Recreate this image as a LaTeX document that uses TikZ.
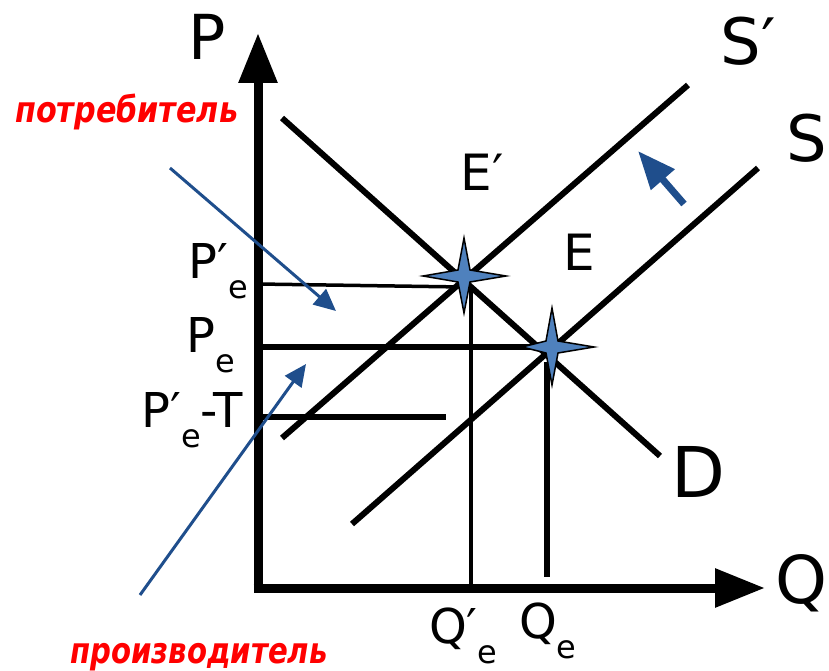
\documentclass[tikz,border=0pt]{standalone}
\usepackage{fontspec}
\setmainfont{DejaVu Sans}
\usetikzlibrary{arrows.meta,calc}
\definecolor{arrowblue}{RGB}{31,78,140}
\definecolor{starblue}{RGB}{79,129,189}
\definecolor{labelred}{RGB}{255,0,0}
\newcommand\lbsub[1]{\raisebox{-20pt}{\fontsize{32}{32}\selectfont #1}}
\begin{document}
\begin{tikzpicture}[x=1pt,y=-1pt,
  axis/.style={line width=9pt,-{Triangle[length=50pt,width=37pt]}},
  curve/.style={line width=6pt},
  guide/.style={line width=3.5pt},
  guidethick/.style={line width=6.5pt},
  bluearrow/.style={arrowblue,line width=3pt,-{Triangle[length=22pt,width=20pt]}},
  bigblue/.style={arrowblue,line width=7pt,-{Triangle[length=38pt,width=30pt]}},
  starst/.style={fill=starblue,draw=black,line width=1.5pt,line join=miter},
  biglabel/.style={inner sep=0pt,anchor=base},
  ticklabel/.style={inner sep=0pt,anchor=base west,font=\fontsize{48}{48}\selectfont},
  redlabel/.style={inner sep=0pt,anchor=base west,text=labelred,font=\fontsize{36}{36}\selectfont\bfseries\itshape}
]
\useasboundingbox (0,0) rectangle (829,671);
% coordinates
\coordinate (O) at (258,588);
\coordinate (Ytop) at (258,33);
\coordinate (Xend) at (765,588);
\coordinate (D1) at (282,118);
\coordinate (D2) at (660,456);
\coordinate (Sp1) at (282,438);
\coordinate (Sp2) at (688,85);
\coordinate (S1) at (352,524);
\coordinate (S2) at (758,168);
\coordinate (Ep) at (464,276);
\coordinate (E) at (552,347);
\coordinate (PpeL) at (258,284);
\coordinate (PpeR) at (463,287);
\coordinate (PeL) at (258,347);
\coordinate (PeR) at (552,347);
\coordinate (PtL) at (258,417);
\coordinate (PtR) at (446,417);
\coordinate (QpT) at (471,287);
\coordinate (QpB) at (471,588);
\coordinate (QeT) at (547,362);
\coordinate (QeB) at (547,577);
\coordinate (B1s) at (170,168);
\coordinate (B1e) at (336,311);
\coordinate (B2s) at (140,595);
\coordinate (B2e) at (306,364);
\coordinate (B3s) at (684,204);
\coordinate (B3e) at (638,151);
% axes
\draw[axis] (O) -- (Ytop);
\draw[axis] ($(O)+(-4.5,0)$) -- (Xend);
% curves
\draw[curve] (D1) -- (D2);
\draw[curve] (Sp1) -- (Sp2);
\draw[curve] (S1) -- (S2);
% guides
\draw[guide] (PpeL) -- (PpeR);
\draw[guidethick] (PeL) -- (PeR);
\draw[guidethick] (PtL) -- (PtR);
\draw[guide] (QpT) -- (QpB);
\draw[guidethick] (QeT) -- (QeB);
% stars
\begin{scope}[shift={(Ep)}]
\draw[starst] (0,-38) -- (6,-6) -- (42,0) -- (6,6) -- (0,37) -- (-6,6) -- (-41,0) -- (-6,-6) -- cycle;
\end{scope}
\begin{scope}[shift={(E)}]
\draw[starst] (0,-39) -- (6,-6) -- (42,0) -- (6,6) -- (0,38) -- (-6,6) -- (-30,0) -- (-6,-6) -- cycle;
\end{scope}
% blue arrows
\draw[bluearrow] (B1s) -- (B1e);
\draw[bluearrow] (B2s) -- (B2e);
\draw[bigblue] (B3s) -- (B3e);
% labels
\node[biglabel,font=\fontsize{62}{62}\selectfont] (lP) at (207,60) {P};
\node[biglabel,font=\fontsize{64}{64}\selectfont] (lSp) at (748,65) {S′};
\node[biglabel,font=\fontsize{64}{64}\selectfont] (lS) at (807,162) {S};
\node[biglabel,font=\fontsize{70}{70}\selectfont] (lD) at (698,497) {D};
\node[biglabel,font=\fontsize{66}{66}\selectfont] (lQ) at (801,603) {Q};
\node[biglabel,font=\fontsize{50}{50}\selectfont] (lEp) at (482,190) {E′};
\node[biglabel,font=\fontsize{50}{50}\selectfont] (lE) at (579,270) {E};
\node[ticklabel] (lPpe) at (188,278) {P′\lbsub{e}};
\node[ticklabel] (lPe) at (186,352) {P\lbsub{e}};
\node[ticklabel] (lPt) at (141,427) {P′\lbsub{e}-T};
\node[ticklabel] (lQpe) at (429,643) {Q′\lbsub{e}};
\node[ticklabel] (lQe) at (519,638) {Q\lbsub{e}};
\node[redlabel] (lcons) at (15,123) {\scalebox{0.84}[1]{потребитель}};
\node[redlabel] (lprod) at (70,663) {\scalebox{0.81}[1]{производитель}};
\end{tikzpicture}
\end{document}
